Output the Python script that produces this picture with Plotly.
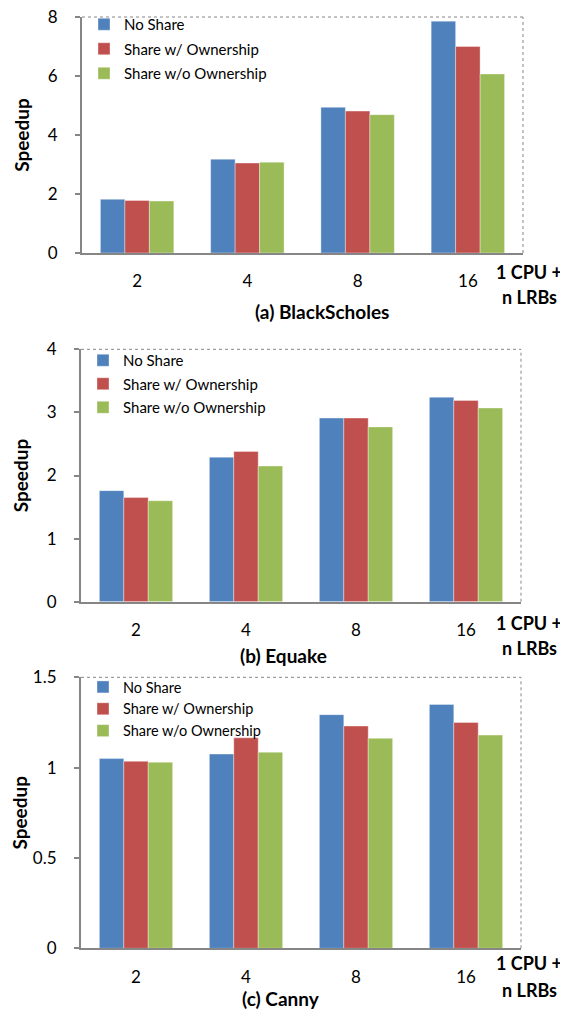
import plotly.graph_objects as go

categories = ["2", "4", "8", "16"]
series_names = ["No Share", "Share w/ Ownership", "Share w/o Ownership"]
colors = ["#4F81BD", "#C0504D", "#9BBB59"]

blackscholes_no_share = [1.82, 3.18, 4.94, 7.86]
blackscholes_own = [1.78, 3.05, 4.81, 7.00]
blackscholes_no_own = [1.76, 3.08, 4.69, 6.07]

equake_no_share = [1.76, 2.29, 2.91, 3.24]
equake_own = [1.65, 2.38, 2.91, 3.19]
equake_no_own = [1.60, 2.15, 2.77, 3.07]

canny_no_share = [1.05, 1.075, 1.293, 1.35]
canny_own = [1.035, 1.165, 1.23, 1.25]
canny_no_own = [1.03, 1.085, 1.162, 1.18]

panel_titles = ["(a) BlackScholes", "(b) Equake", "(c) Canny"]
y_ranges = [[0, 8], [0, 4], [0, 1.5]]
y_dticks = [2, 1, 0.5]

# page body has an 8px margin, so the figure is placed at (8, 8) in the window
OFF = 8
W, H = 568 - OFF, 1010 - OFF
FONT = "Lato"
GRAY = "#868686"

def px(x):
    return (x - OFF) / W

def py(y):
    return 1 - (y - OFF) / H

# plot-area geometry (window pixels) per panel: left, right, top, bottom
geo = [(82, 523, 17, 253), (81, 521, 349.3, 601.7), (81, 521, 677.3, 948.3)]
title_pos = [(321.7, 311.7), (283.5, 655), (281, 998)]
xlab_pos = [(529, 271.7, 296.7), (529, 623.3, 648.3), (529, 963.3, 990)]
legend_top = [8, 344, 671]
group_gaps = [2, 1, 0]
legend_sizes = [15, 15, 14.5]

data = [
    [blackscholes_no_share, blackscholes_own, blackscholes_no_own],
    [equake_no_share, equake_own, equake_no_own],
    [canny_no_share, canny_own, canny_no_own],
]

fig = go.Figure()
annotations = []
shapes = []
layout = {}
for p in range(3):
    sfx = "" if p == 0 else str(p + 1)
    xa, ya = "x" + sfx, "y" + sfx
    lg = "legend" + sfx
    for s in range(3):
        fig.add_trace(go.Bar(
            x=categories, y=data[p][s], name=series_names[s],
            marker=dict(color=colors[s], line=dict(color="rgba(255,255,255,0.6)", width=0.6)),
            xaxis=xa, yaxis=ya, legend=lg, legendgroup=f"{p}-{s}",
        ))
    l, r, t, b = geo[p]
    layout["xaxis" + sfx] = dict(
        domain=[px(l), px(r)], anchor=ya, type="category", automargin=False,
        showline=True, linecolor=GRAY, linewidth=2, ticks="",
        showgrid=False, zeroline=False,
        tickfont=dict(family=FONT, size=17, color="#000"),
        ticklabelstandoff=12,
    )
    layout["yaxis" + sfx] = dict(
        domain=[py(b), py(t)], anchor=xa, range=y_ranges[p], dtick=y_dticks[p],
        automargin=False, ticklabeloverflow="allow",
        showline=True, linecolor=GRAY, linewidth=2, ticks="outside", ticklen=5,
        tickcolor=GRAY, tickwidth=1.5, showgrid=False, zeroline=False,
        tickfont=dict(family=FONT, size=17, color="#000"), ticklabelstandoff=14,
        title=dict(text="<b>Speedup</b>", font=dict(family=FONT, size=19, color="#000"), standoff=13),
    )
    layout[lg] = dict(
        x=px(l + 2), y=py(legend_top[p]), xanchor="left", yanchor="top",
        bgcolor="rgba(0,0,0,0)", font=dict(family=FONT, size=legend_sizes[p], color="#000"),
        traceorder="grouped", tracegroupgap=group_gaps[p], itemwidth=30,
    )
    # dotted top/right border
    shapes.append(dict(type="line", xref=xa + " domain", yref=ya + " domain",
                       x0=0, x1=1, y0=1, y1=1, line=dict(color=GRAY, width=1, dash="dot")))
    shapes.append(dict(type="line", xref=xa + " domain", yref=ya + " domain",
                       x0=1, x1=1, y0=0, y1=1, line=dict(color=GRAY, width=1, dash="dot")))
    tx, ty = title_pos[p]
    annotations.append(dict(text="<b>" + panel_titles[p] + "</b>", x=px(tx), y=py(ty),
                            xref="paper", yref="paper", showarrow=False,
                            xanchor="center", yanchor="middle",
                            font=dict(family=FONT, size=19, color="#000")))
    lx, ly1, ly2 = xlab_pos[p]
    for txt, yy in (("<b>1 CPU +</b>", ly1), ("<b>n LRBs</b>", ly2)):
        annotations.append(dict(text=txt, x=px(lx), y=py(yy), xref="paper", yref="paper",
                                showarrow=False, xanchor="center", yanchor="middle",
                                font=dict(family=FONT, size=18, color="#000")))

fig.update_layout(
    width=W, height=H, margin=dict(l=0, r=0, t=0, b=0, autoexpand=False),
    paper_bgcolor="white", plot_bgcolor="white",
    barmode="group", bargap=0.334, bargroupgap=0,
    annotations=annotations, shapes=shapes, showlegend=True,
    **layout,
)
fig.write_html("out.html")
